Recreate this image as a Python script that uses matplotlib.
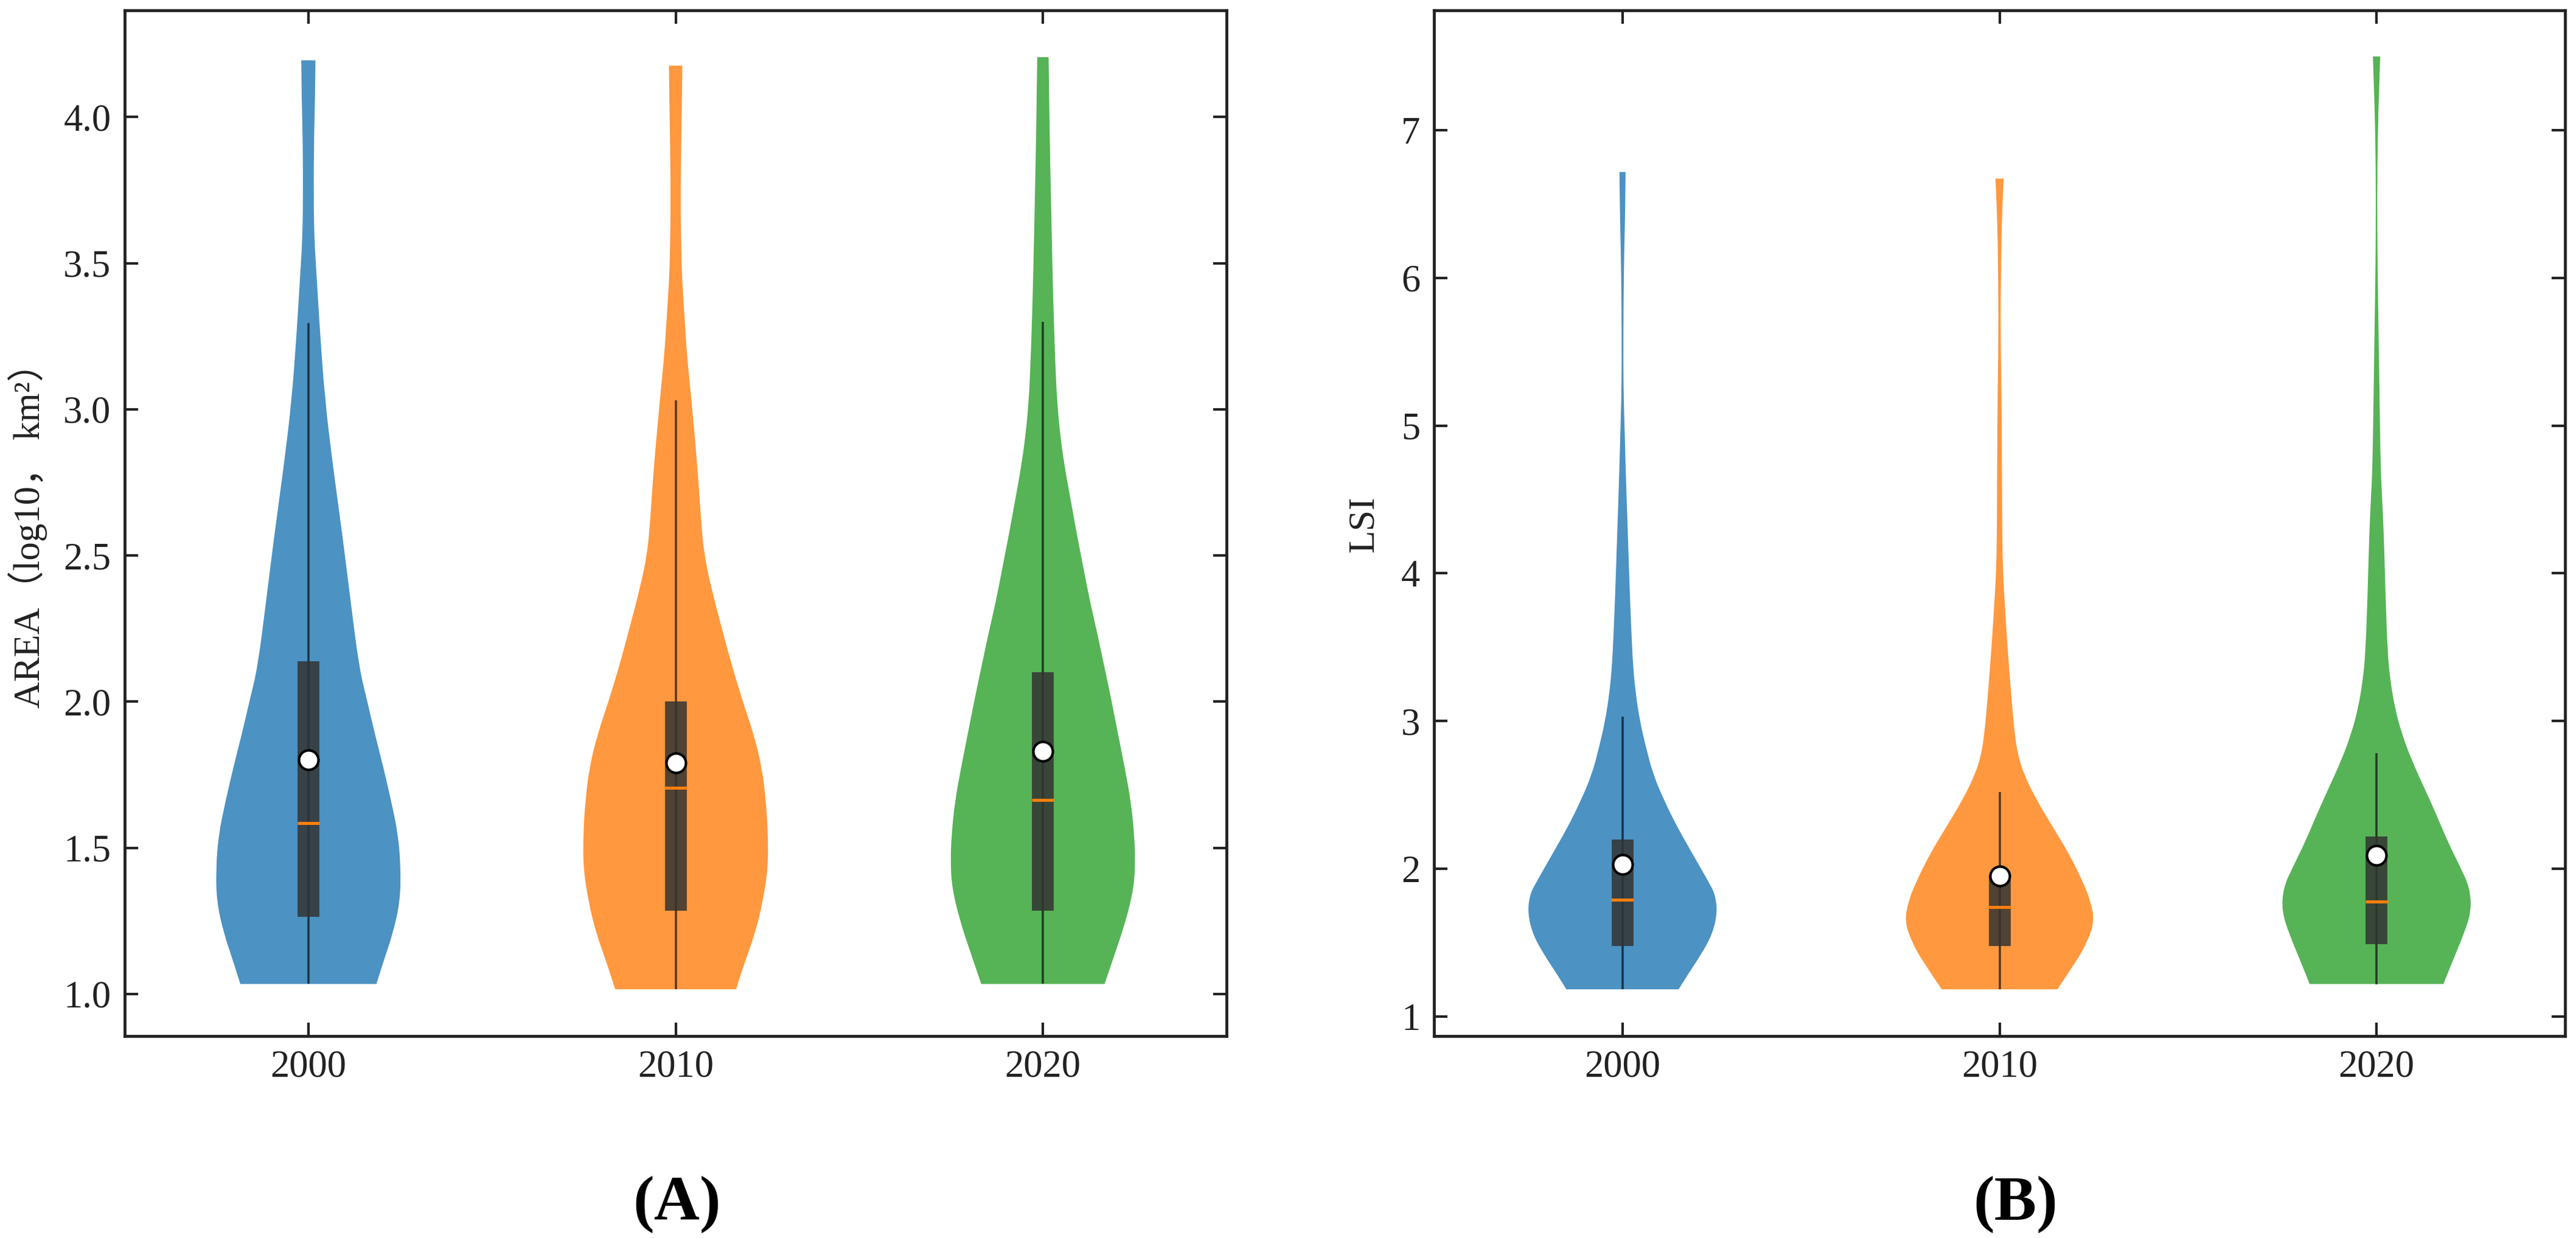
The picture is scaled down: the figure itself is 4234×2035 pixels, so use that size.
import matplotlib
matplotlib.use("Agg")
import matplotlib.pyplot as plt
from matplotlib.path import Path
from matplotlib.patches import PathPatch

plt.rcParams['font.family'] = ['Liberation Serif', 'Noto Sans CJK SC']

W, H = 4234, 2035
years = ['2000', '2010', '2020']
colors = ['#1f77b4', '#ff7f0e', '#2ca02c']

# panel A, outline of each violin: value and relative width
area_y_2000 = [4.194, 4.057, 3.943, 3.715, 3.578, 3.486, 3.372, 3.258, 3.030, 2.801, 2.573, 2.345,
               2.116, 2.002, 1.888, 1.774, 1.660, 1.546, 1.432, 1.317, 1.203, 1.112, 1.034]
area_w_2000 = [35, 33, 28, 26, 30, 38, 48, 58, 82, 122, 167, 208,
               250, 290, 328, 370, 408, 442, 455, 452, 415, 370, 335]
area_y_2010 = [4.176, 4.057, 3.943, 3.715, 3.532, 3.441, 3.304, 3.190, 3.030, 2.801, 2.619, 2.505, 2.390,
               2.231, 2.116, 2.002, 1.888, 1.774, 1.660, 1.546, 1.432, 1.317, 1.203, 1.089, 1.016]
area_w_2010 = [33, 31, 28, 24, 28, 32, 45, 55, 78, 108, 125, 140, 175,
               235, 280, 330, 385, 425, 445, 455, 455, 430, 390, 330, 298]
area_y_2020 = [4.205, 3.943, 3.715, 3.486, 3.304, 3.144, 3.030, 2.915, 2.801, 2.687, 2.573, 2.459, 2.345,
               2.231, 2.116, 2.002, 1.888, 1.774, 1.660, 1.546, 1.454, 1.363, 1.249, 1.135, 1.034]
area_w_2020 = [28, 33, 40, 47, 54, 62, 70, 85, 108, 138, 168, 200, 232,
               270, 305, 340, 372, 405, 435, 452, 457, 450, 410, 355, 305]

# panel B
lsi_y_2000 = [6.716, 6.436, 6.165, 5.849, 5.397, 5.171, 4.945, 4.719, 4.267, 3.815, 3.589, 3.363, 3.183,
              3.002, 2.821, 2.640, 2.460, 2.279, 2.098, 1.917, 1.827, 1.700, 1.556, 1.420, 1.285, 1.185]
lsi_w_2000 = [15, 13, 8, 5, 4, 6, 11, 15, 26, 37, 44, 52, 65,
              85, 115, 150, 205, 270, 345, 420, 455, 465, 440, 385, 320, 275]
lsi_y_2010 = [6.671, 6.436, 6.075, 5.623, 5.171, 4.719, 4.267, 3.996, 3.815, 3.589, 3.363, 3.137,
              2.912, 2.776, 2.640, 2.460, 2.279, 2.098, 1.917, 1.782, 1.646, 1.511, 1.375, 1.185]
lsi_w_2010 = [20, 12, 7, 5, 10, 12, 13, 17, 25, 35, 47, 60,
              75, 90, 120, 185, 265, 345, 410, 450, 468, 435, 380, 285]
lsi_y_2020 = [7.498, 7.295, 6.979, 6.527, 6.075, 5.623, 5.171, 4.719, 4.493, 4.267, 3.815, 3.454, 3.273,
              3.092, 2.912, 2.731, 2.550, 2.369, 2.188, 2.008, 1.872, 1.714, 1.556, 1.375, 1.221]
lsi_w_2020 = [18, 13, 6, 3, 5, 10, 15, 20, 28, 36, 45, 55, 68,
              90, 125, 175, 235, 295, 350, 415, 460, 468, 430, 375, 330]

# box stats per year
area_whisker = [3.296, 3.03, 3.30]
area_q3 = [2.139, 2.00, 2.10]
area_mean = [1.801, 1.79, 1.83]
area_median = [1.584, 1.705, 1.664]
area_q1 = [1.263, 1.285, 1.285]
area_min = [1.034, 1.016, 1.034]

lsi_whisker = [3.03, 2.52, 2.785]
lsi_q3 = [2.20, 1.96, 2.22]
lsi_mean = [2.03, 1.95, 2.09]
lsi_median = [1.79, 1.74, 1.78]
lsi_q1 = [1.48, 1.48, 1.49]
lsi_min = [1.185, 1.185, 1.22]


def curve_side(xs, ys):
    # read points act as quadratic control points, so the edge stays smooth
    verts, codes = [], []
    for i in range(1, len(xs) - 1):
        verts.append((xs[i], ys[i]))
        codes.append(Path.CURVE3)
        if i < len(xs) - 2:
            verts.append(((xs[i] + xs[i + 1]) / 2, (ys[i] + ys[i + 1]) / 2))
        else:
            verts.append((xs[-1], ys[-1]))
        codes.append(Path.CURVE3)
    return verts, codes


def violin_body(ax, pos, ys, ws, color):
    half = [w / max(ws) * 0.2515 for w in ws]
    right = [pos + h for h in half]
    left = [pos - h for h in half]
    v1, c1 = curve_side(right, ys)
    v2, c2 = curve_side(left[::-1], ys[::-1])
    verts = [(right[0], ys[0])] + v1 + [(left[-1], ys[-1])] + v2 + [(right[0], ys[0])]
    codes = [Path.MOVETO] + c1 + [Path.LINETO] + c2 + [Path.CLOSEPOLY]
    ax.add_patch(PathPatch(Path(verts, codes), facecolor=color, edgecolor='none', alpha=0.8, zorder=1))


def violins(ax, ys, ws, whisker, q3, mean, median, q1, low):
    pos = [1, 2, 3]
    for i in range(3):
        violin_body(ax, pos[i], ys[i], ws[i], colors[i])
    ax.vlines(pos, low, whisker, color='k', lw=0.85, alpha=0.65, zorder=2)
    ax.vlines(pos, q1, q3, color='#333333', lw=8.6, alpha=0.85, zorder=3)
    ax.hlines(median, [p - 0.03 for p in pos], [p + 0.03 for p in pos], color='#ff7f0e', lw=1.2, zorder=4)
    ax.scatter(pos, mean, s=59, color='white', edgecolor='k', linewidth=1.0, zorder=5)
    ax.set_xlim(0.5, 3.5)
    ax.set_xticks(pos)
    ax.set_xticklabels(years)
    ax.tick_params(direction='in', top=True, right=True, length=5.3, width=1.0,
                   labelsize=15, pad=5.4, color='#222222', labelcolor='#222222')
    for s in ax.spines.values():
        s.set_linewidth(1.15)
        s.set_color('#222222')


fig = plt.figure(figsize=(W / 300, H / 300), dpi=300)
ax1 = fig.add_axes([205 / W, 1 - 1703 / H, 1811 / W, 1686 / H])
ax2 = fig.add_axes([2357 / W, 1 - 1703 / H, 1859 / W, 1686 / H])

violins(ax1, [area_y_2000, area_y_2010, area_y_2020], [area_w_2000, area_w_2010, area_w_2020],
        area_whisker, area_q3, area_mean, area_median, area_q1, area_min)
ax1.set_ylim(0.856, 4.365)
ax1.set_yticks([1.0, 1.5, 2.0, 2.5, 3.0, 3.5, 4.0])
ax1.set_yticklabels(['1.0', '1.5', '2.0', '2.5', '3.0', '3.5', '4.0'])
ax1.set_ylabel('AREA（log10， km²）', fontsize=14.6, color='#222222')
ax1.yaxis.set_label_coords(-0.070, 0.497)

violins(ax2, [lsi_y_2000, lsi_y_2010, lsi_y_2020], [lsi_w_2000, lsi_w_2010, lsi_w_2020],
        lsi_whisker, lsi_q3, lsi_mean, lsi_median, lsi_q1, lsi_min)
ax2.set_ylim(0.869, 7.81)
ax2.set_yticks([1, 2, 3, 4, 5, 6, 7])
ax2.set_ylabel('LSI', fontsize=14.8, color='#222222')
ax2.yaxis.set_label_coords(-0.0468, 0.499)

fig.text(1113 / W, 1 - 1980 / H, '(A)', fontsize=25, fontweight='bold', ha='center', va='center')
fig.text(3313 / W, 1 - 1980 / H, '(B)', fontsize=25, fontweight='bold', ha='center', va='center')

fig.savefig('out.png', dpi=300)
